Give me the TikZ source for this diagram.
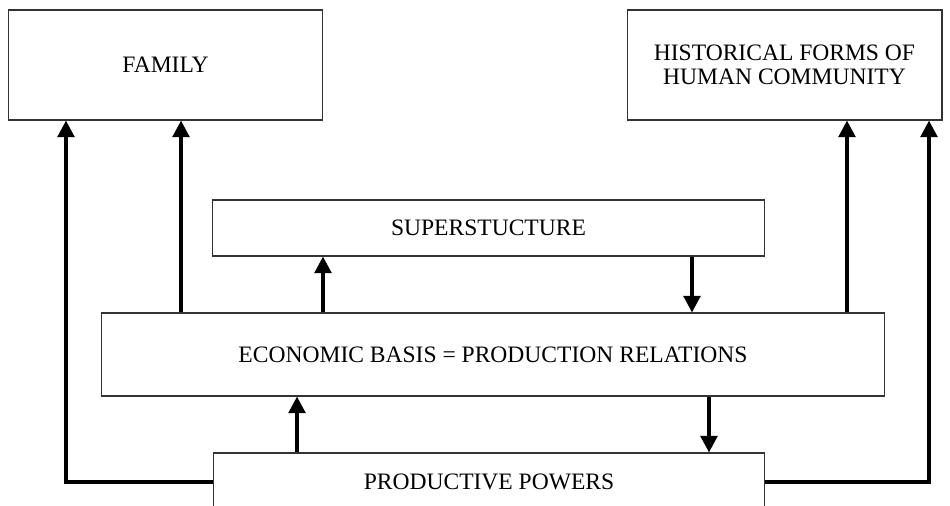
\documentclass[tikz,border=0pt]{standalone}
\usepackage{fontspec}
\setmainfont{Liberation Serif}
\usetikzlibrary{arrows.meta}

\begin{document}
\begin{tikzpicture}[x=0.02cm, y=-0.02cm,
	box/.style={draw=black!80, line width=0.6pt, fill=white, inner sep=0pt, align=center,
		font=\fontsize{13.4}{13.6}\selectfont},
	link/.style={line width=2.1pt, -{Triangle[length=0.33cm, width=0.33cm]}},
	joint/.style={line width=2.1pt}
	]
	\useasboundingbox (0,0) rectangle (950,505);
	
	\node[box, minimum width=6.3cm, minimum height=2.2cm] (family) at (165.5,65) {FAMILY};
	\node[box, minimum width=6.3cm, minimum height=2.2cm] (hist) at (784.5,65) {HISTORICAL FORMS OF\\HUMAN COMMUNITY};
	
	\node[box, minimum width=11.04cm, minimum height=1.12cm] (super) at (488.5,228) {SUPERSTUCTURE};
	\node[box, minimum width=15.68cm, minimum height=1.66cm] (econ) at (493,354.5) {ECONOMIC BASIS = PRODUCTION RELATIONS};
	\node[box, minimum width=11.04cm, minimum height=1.16cm] (prod) at (489,482) {PRODUCTIVE POWERS};
	
	% productive powers -> family and community
	\draw[link] (prod.west) -| (family.south -| 66,0);
	\draw[link] (prod.east) -| (hist.south -| 929,0);
	
	% economic basis -> family and community
	\draw[link] (econ.north -| 181,0) -- (family.south -| 181,0);
	\draw[link] (econ.north -| 847,0) -- (hist.south -| 847,0);
	
	% basis <-> superstructure
	\draw[link] (econ.north -| 323,0) -- (super.south -| 323,0);
	\draw[link] (super.south -| 692,0) -- (econ.north -| 692,0);
	
	% productive powers <-> basis
	\draw[link] (prod.north -| 297,0) -- (econ.south -| 297,0);
	\draw[link] (econ.south -| 709,0) -- (prod.north -| 709,0);
\end{tikzpicture}
\end{document}
